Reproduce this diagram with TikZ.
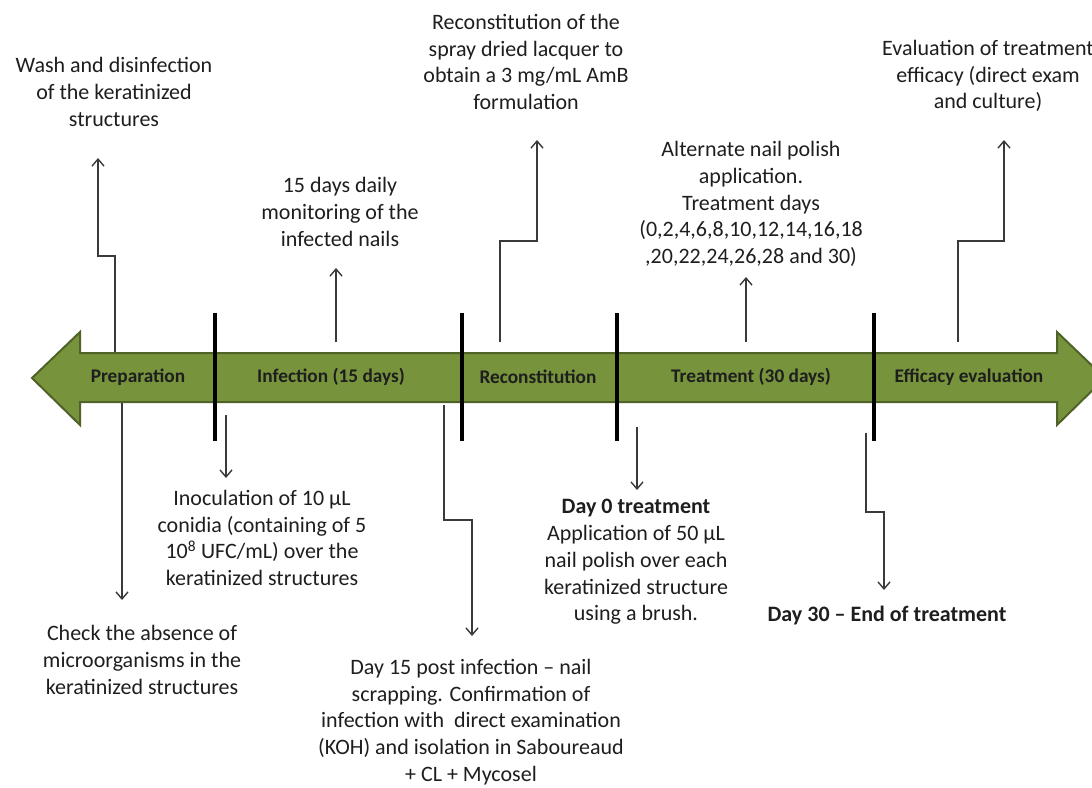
\documentclass[tikz,border=0pt]{standalone}
\usepackage{fontspec}
\setmainfont{Carlito}
\usetikzlibrary{arrows.meta}
\definecolor{olivefill}{HTML}{77933C}
\definecolor{oliveedge}{HTML}{4F6228}
\definecolor{conncol}{HTML}{3A3A3A}
\definecolor{txtcol}{HTML}{1E1E1E}
\tikzset{
  note/.style={align=center, inner sep=0pt, text=txtcol, font=\fontsize{22}{26.8}\selectfont},
  phase/.style={inner sep=0pt, text=txtcol, font=\fontsize{19.3}{22}\selectfont\bfseries},
  conn/.style={draw=conncol, line width=1.6pt, -{Straight Barb[length=7pt,width=12pt,line width=1.4pt]}},
  sepbar/.style={draw=black, line width=4pt},
}
\begin{document}
\begin{tikzpicture}[x=1pt,y=-1pt]
\useasboundingbox (0,0) rectangle (1092,787);
% main double arrow
\draw[fill=olivefill, draw=oliveedge, line width=2pt, line join=miter]
  (32,378) -- (80,332) -- (80,353) -- (1057,353) -- (1057,332) -- (1105,378)
  -- (1057,425) -- (1057,402) -- (80,402) -- (80,425) -- cycle;
% separators
\foreach \xx in {215,462,617,874} \draw[sepbar] (\xx,313) -- (\xx,441);
% phase labels
\node[phase] (pPrep) at (138,377) {Preparation};
\node[phase] (pInf) at (331,377) {Infection (15 days)};
\node[phase] (pRec) at (538,377) {Reconstitution};
\node[phase] (pTreat) at (751,377) {Treatment (30 days)};
\node[phase] (pEff) at (969,377) {Efficacy evaluation};
% texts
\node[note] (wash) at (114,92) {Wash and disinfection\\of the keratinized\\structures};
\node[note] (check) at (142,660) {Check the absence of\\microorganisms in the\\keratinized structures};
\node[note] (inoc) at (262,538) {Inoculation of 10 µL\\conidia (containing of 5\\10\textsuperscript{8} UFC/mL) over the\\keratinized structures};
\node[note] (monit) at (340,212) {15 days daily\\monitoring of the\\infected nails};
\node[note] (day15) at (471,722) {Day 15 post infection – nail\\scrapping. Confirmation of\\infection with\ \ direct examination\\(KOH) and isolation in Saboureaud\\+ CL + Mycosel};
\node[note] (recon) at (526,62) {Reconstitution of the\\spray dried lacquer to\\obtain a 3 mg/mL AmB\\formulation};
\node[note] (alt) at (751,204) {Alternate nail polish\\application.\\Treatment days\\(0,2,4,6,8,10,12,14,16,18\\,20,22,24,26,28 and 30)};
\node[note] (day0) at (636,562) {\textbf{Day 0 treatment}\\Application of 50 µL\\nail polish over each\\keratinized structure\\using a brush.};
\node[note] (day30) at (887,616) {\textbf{Day 30 – End of treatment}};
\node[note] (eval) at (988,76) {Evaluation of treatment\\efficacy (direct exam\\and culture)};
% connector coordinates
\coordinate (s1) at (115,352); \coordinate (k1) at (98,256); \coordinate (e1) at (98,158);
\coordinate (s2) at (122,403); \coordinate (e2) at (122,600);
\coordinate (s3) at (226,415); \coordinate (e3) at (226,478);
\coordinate (s4) at (336,342); \coordinate (e4) at (336,268);
\coordinate (s5) at (444,405); \coordinate (k5) at (472,520); \coordinate (e5) at (472,636);
\coordinate (s6) at (500,342); \coordinate (k6) at (537,241); \coordinate (e6) at (537,140);
\coordinate (s7) at (637,427); \coordinate (e7) at (637,490);
\coordinate (s8) at (746,342); \coordinate (e8) at (746,277);
\coordinate (s9) at (866,433); \coordinate (k9) at (884,512); \coordinate (e9) at (884,590);
\coordinate (s10) at (958,342); \coordinate (k10) at (1004,241); \coordinate (e10) at (1004,140);
% connectors
\draw[conn] (s1) |- (k1) -- (e1);
\draw[conn] (s2) -- (e2);
\draw[conn] (s3) -- (e3);
\draw[conn] (s4) -- (e4);
\draw[conn] (s5) |- (k5) -- (e5);
\draw[conn] (s6) |- (k6) -- (e6);
\draw[conn] (s7) -- (e7);
\draw[conn] (s8) -- (e8);
\draw[conn] (s9) |- (k9) -- (e9);
\draw[conn] (s10) |- (k10) -- (e10);
\end{tikzpicture}
\end{document}
